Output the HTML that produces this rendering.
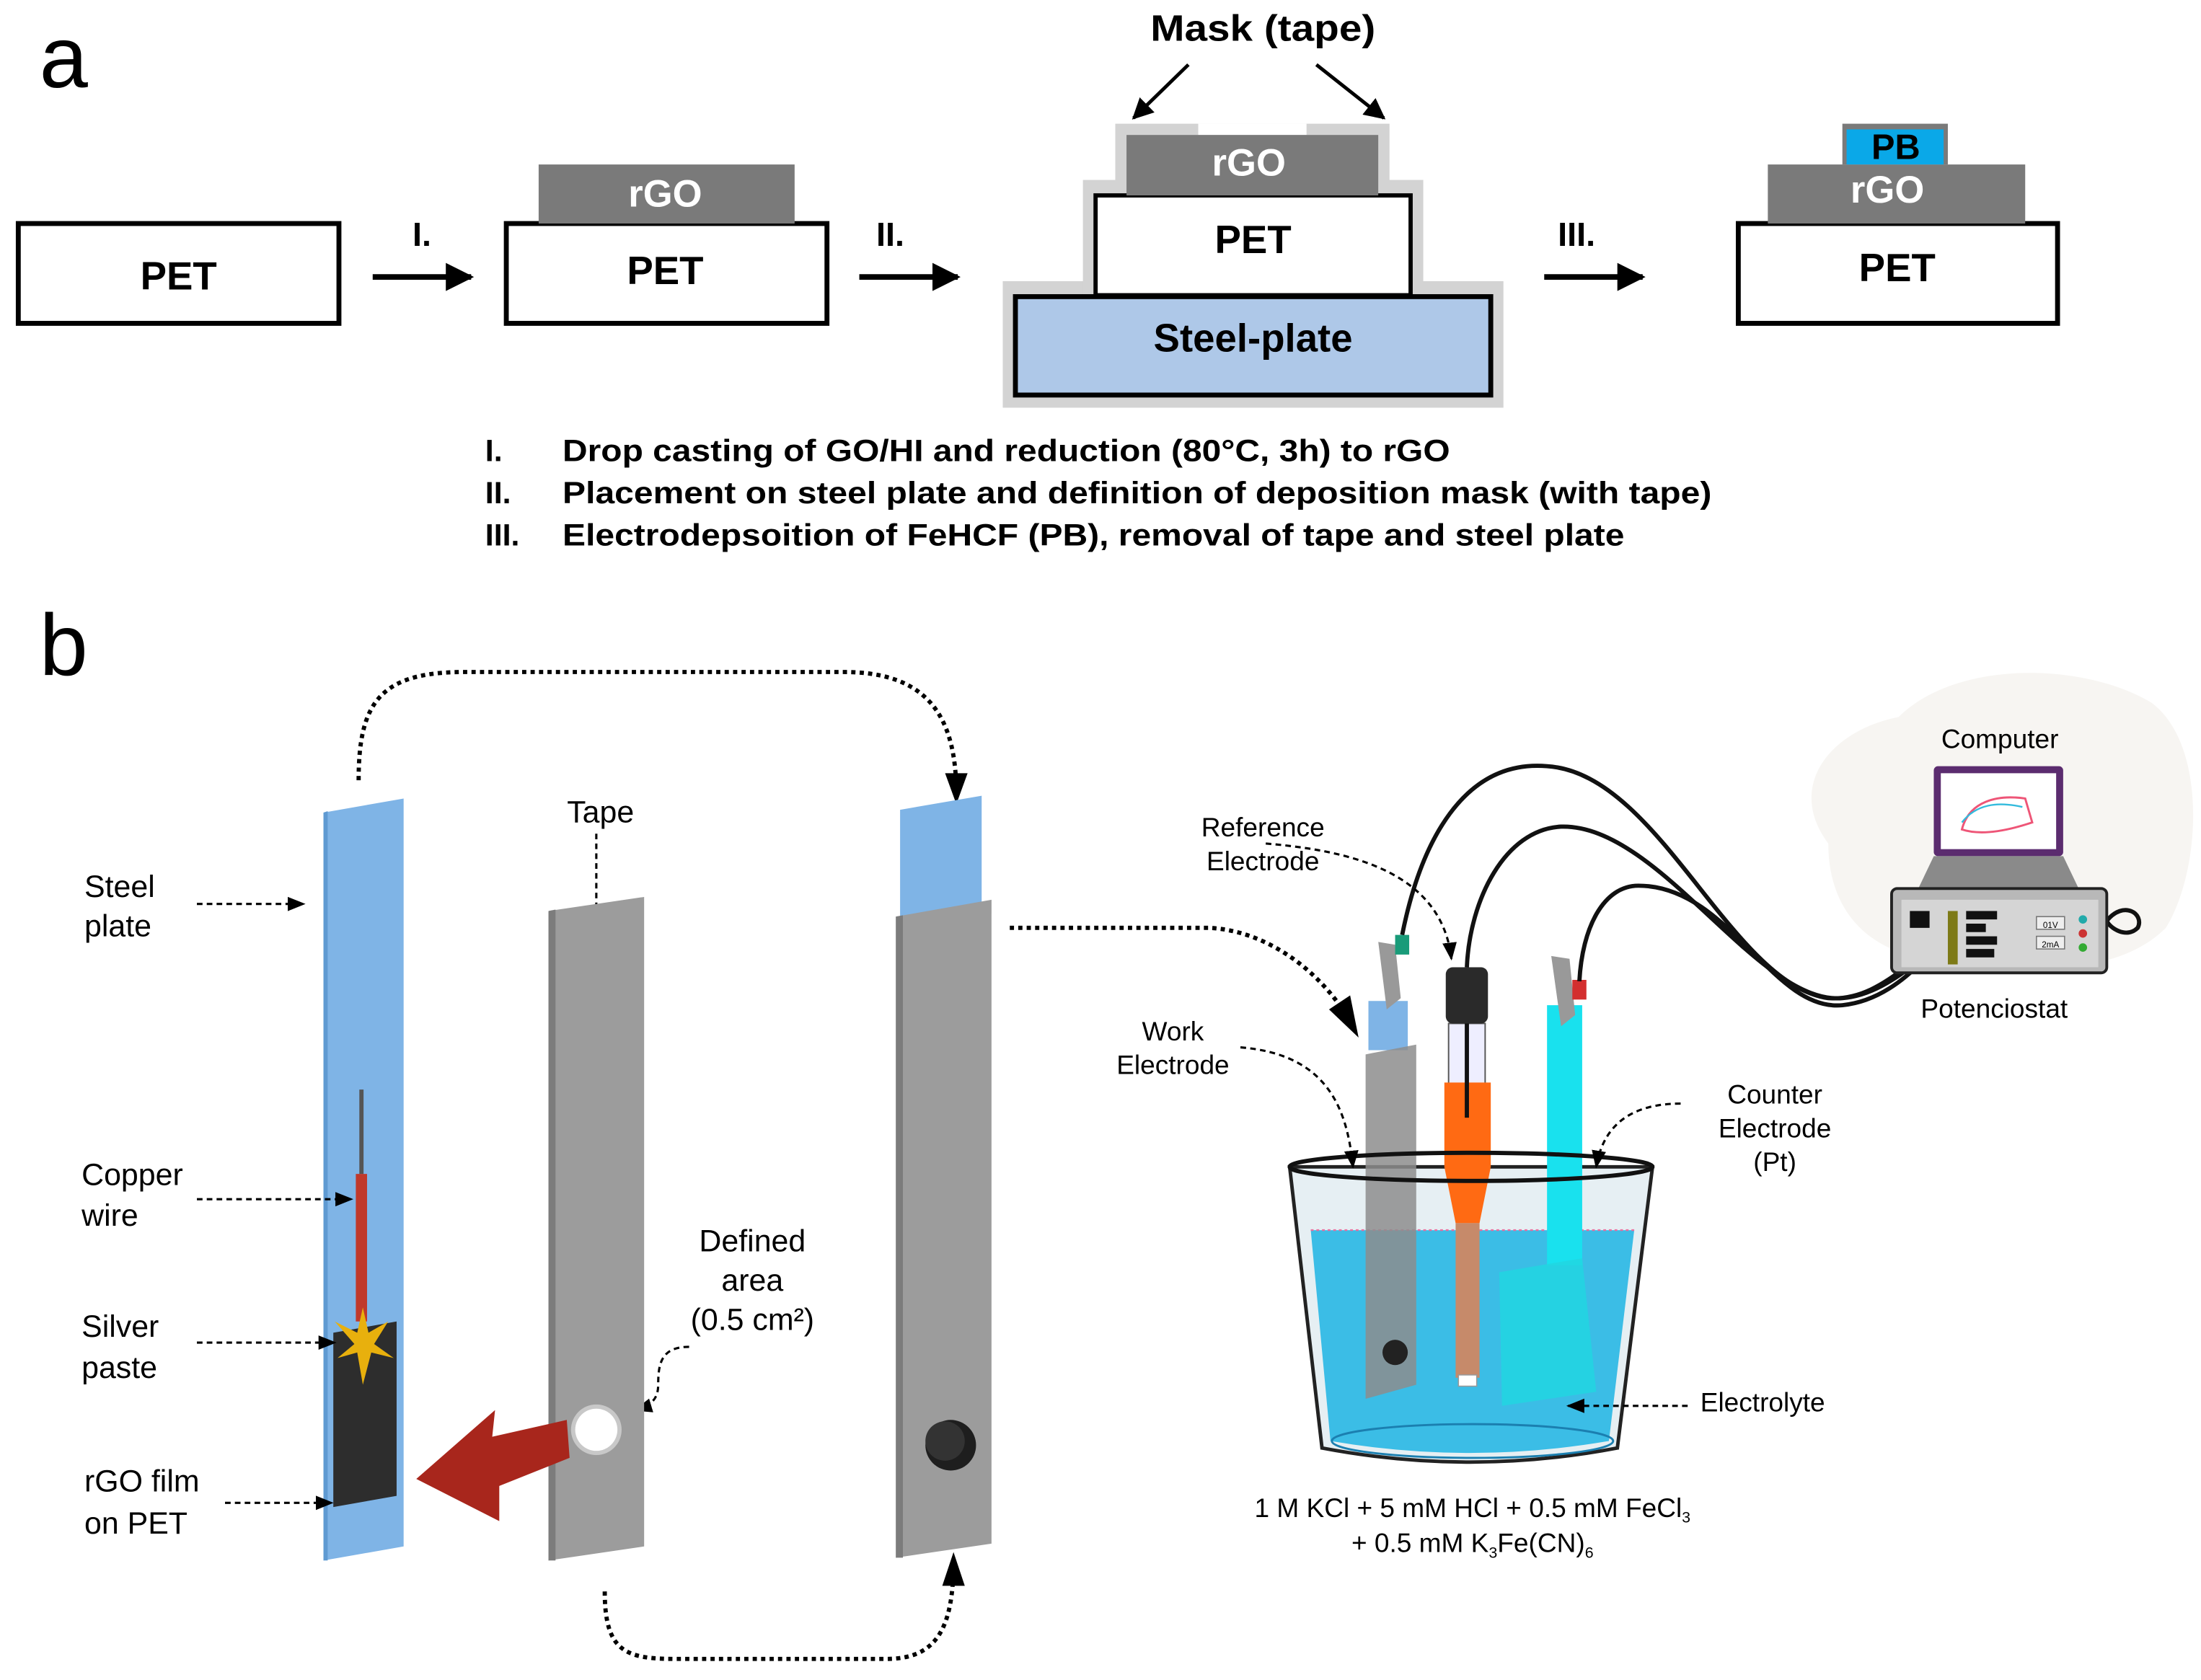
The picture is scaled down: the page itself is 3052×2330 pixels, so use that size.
<!DOCTYPE html>
<html><head><meta charset="utf-8"><style>
html,body{margin:0;padding:0;background:#fff}
svg{display:block}
text{font-family:"Liberation Sans",sans-serif}
.b{font-weight:bold}
</style></head><body>
<svg width="3052" height="2330" viewBox="0 0 1565 1195" preserveAspectRatio="none" xmlns="http://www.w3.org/2000/svg">
<defs>
<marker id="ah" viewBox="0 0 10 10" refX="9" refY="5" markerWidth="6" markerHeight="6" orient="auto"><path d="M0,0L10,5L0,10z" fill="#000"/></marker>
<marker id="ahs" viewBox="0 0 10 10" refX="9" refY="5" markerWidth="8" markerHeight="8" orient="auto"><path d="M0,1L10,5L0,9z" fill="#000"/></marker>
<marker id="ahb" viewBox="0 0 10 10" refX="9" refY="5" markerWidth="5" markerHeight="5" orient="auto"><path d="M0,0L10,5L0,10z" fill="#000"/></marker>
</defs>
<!-- Panel a -->
<text x="28" y="62" font-size="62">a</text>
<text x="818" y="29" font-size="26" class="b" textLength="160" lengthAdjust="spacingAndGlyphs">Mask (tape)</text>
<line x1="845" y1="46" x2="806" y2="84" stroke="#000" stroke-width="2.5" marker-end="url(#ah)"/>
<line x1="936" y1="46" x2="984" y2="84" stroke="#000" stroke-width="2.5" marker-end="url(#ah)"/>

<rect x="13" y="159" width="228" height="71" fill="#fff" stroke="#000" stroke-width="3.5"/>
<text x="127" y="206" font-size="28" class="b" text-anchor="middle">PET</text>
<line x1="265" y1="197" x2="335" y2="197" stroke="#000" stroke-width="4" marker-end="url(#ahb)"/>
<text x="300" y="175" font-size="24" class="b" text-anchor="middle">I.</text>

<rect x="360" y="159" width="228" height="71" fill="#fff" stroke="#000" stroke-width="3.5"/>
<rect x="383" y="117" width="182" height="42" fill="#7a7a7a"/>
<text x="473" y="147" font-size="27" class="b" fill="#fff" text-anchor="middle">rGO</text>
<text x="473" y="202" font-size="28" class="b" text-anchor="middle">PET</text>
<line x1="611" y1="197" x2="681" y2="197" stroke="#000" stroke-width="4" marker-end="url(#ahb)"/>
<text x="633" y="175" font-size="24" class="b" text-anchor="middle">II.</text>

<rect x="713" y="200" width="356" height="90" fill="#d3d3d3"/>
<rect x="770" y="128" width="242" height="82" fill="#d3d3d3"/>
<rect x="793" y="88" width="195" height="50" fill="#d3d3d3"/>
<rect x="852" y="88" width="77" height="8" fill="#fff"/>
<rect x="722" y="211" width="338" height="70" fill="#aec8e8" stroke="#000" stroke-width="3.5"/>
<rect x="779" y="139" width="224" height="71" fill="#fff" stroke="#000" stroke-width="3"/>
<rect x="801" y="96" width="179" height="43" fill="#7a7a7a"/>
<text x="888" y="125" font-size="27" class="b" fill="#fff" text-anchor="middle">rGO</text>
<text x="891" y="180" font-size="28" class="b" text-anchor="middle">PET</text>
<text x="891" y="250" font-size="28" class="b" text-anchor="middle">Steel-plate</text>
<line x1="1098" y1="197" x2="1168" y2="197" stroke="#000" stroke-width="4" marker-end="url(#ahb)"/>
<text x="1121" y="175" font-size="24" class="b" text-anchor="middle">III.</text>

<rect x="1236" y="159" width="227" height="71" fill="#fff" stroke="#000" stroke-width="3.5"/>
<rect x="1257" y="117" width="183" height="42" fill="#7a7a7a"/>
<rect x="1310" y="88" width="75" height="29" fill="#7a7a7a"/>
<rect x="1313" y="92" width="69" height="25" fill="#0aa8e8"/>
<text x="1348" y="113" font-size="25" class="b" text-anchor="middle">PB</text>
<text x="1342" y="144" font-size="27" class="b" fill="#fff" text-anchor="middle">rGO</text>
<text x="1349" y="200" font-size="28" class="b" text-anchor="middle">PET</text>

<g font-size="22" class="b">
<text x="345" y="328">I.</text><text x="400" y="328" textLength="631" lengthAdjust="spacingAndGlyphs">Drop casting of GO/HI and reduction (80°C, 3h) to rGO</text>
<text x="345" y="358">II.</text><text x="400" y="358" textLength="817" lengthAdjust="spacingAndGlyphs">Placement on steel plate and definition of deposition mask (with tape)</text>
<text x="345" y="388">III.</text><text x="400" y="388" textLength="755" lengthAdjust="spacingAndGlyphs">Electrodepsoition of FeHCF (PB), removal of tape and steel plate</text>
</g>

<!-- Panel b -->
<text x="28" y="480" font-size="62">b</text>
<path d="M255,555 C255,500 270,478 330,478 L600,478 C660,478 680,510 680,565" fill="none" stroke="#000" stroke-width="3" stroke-dasharray="3,3"/>
<path d="M672,550 L680,572 L688,550z" fill="#000"/>
<path d="M430,1132 C430,1175 445,1180 480,1180 L630,1180 C665,1180 678,1160 678,1110" fill="none" stroke="#000" stroke-width="3" stroke-dasharray="3,3"/>
<path d="M670,1128 L678,1104 L686,1128z" fill="#000"/>

<!-- strip 1 -->
<polygon points="230,578 287,568 287,1100 230,1110" fill="#7fb4e6"/>
<polygon points="230,578 233,577 233,1110 230,1110" fill="#5f9ad2"/>
<line x1="257" y1="775" x2="257" y2="835" stroke="#555" stroke-width="3"/>
<line x1="257" y1="835" x2="257" y2="940" stroke="#c0392b" stroke-width="8"/>
<polygon points="237,948 282,940 282,1064 237,1072" fill="#2d2d2d"/>
<polygon points="258,930 262,948 276,940 266,956 280,966 264,962 258,985 254,962 240,966 252,956 238,940 254,948" fill="#e8b00d"/>
<g font-size="22">
<text x="60" y="638">Steel</text><text x="60" y="666">plate</text>
<text x="58" y="843">Copper</text><text x="58" y="872">wire</text>
<text x="58" y="951">Silver</text><text x="58" y="980">paste</text>
<text x="60" y="1061">rGO film</text><text x="60" y="1091">on PET</text>
<text x="427" y="585" text-anchor="middle">Tape</text>
<text x="535" y="890" text-anchor="middle">Defined</text>
<text x="535" y="918" text-anchor="middle">area</text>
<text x="535" y="946" text-anchor="middle">(0.5 cm²)</text>
</g>
<g stroke="#000" stroke-width="1.6" stroke-dasharray="4,3" fill="none">
<line x1="140" y1="643" x2="216" y2="643" marker-end="url(#ahs)"/>
<line x1="140" y1="853" x2="250" y2="853" marker-end="url(#ahs)"/>
<line x1="140" y1="955" x2="238" y2="955" marker-end="url(#ahs)"/>
<line x1="160" y1="1069" x2="236" y2="1069" marker-end="url(#ahs)"/>
<line x1="424" y1="593" x2="424" y2="678" marker-end="url(#ahs)"/>
<path d="M490,958 C470,958 468,970 468,985 C468,996 462,1000 452,1003" marker-end="url(#ahs)"/>
</g>
<!-- strip 2 -->
<polygon points="390,648 458,638 458,1100 390,1110" fill="#9c9c9c"/>
<polygon points="390,648 395,647 395,1110 390,1110" fill="#7c7c7c"/>
<circle cx="424" cy="1017" r="18" fill="#c8c8c8"/><circle cx="424" cy="1017" r="15" fill="#fff"/>
<path d="M403,1010 L350,1022 L352,1003 L296,1052 L355,1082 L355,1057 L405,1037z" fill="#a8261c"/>
<!-- strip 3 -->
<polygon points="640,576 698,566 698,650 640,656" fill="#7fb4e6"/>
<polygon points="637,652 705,640 705,1098 637,1108" fill="#9c9c9c"/>
<polygon points="637,652 642,651 642,1108 637,1108" fill="#7c7c7c"/>
<circle cx="676" cy="1028" r="18" fill="#1e1e1e"/><circle cx="672" cy="1025" r="14" fill="#333"/>
<path d="M718,660 L860,660 C900,662 940,690 962,730" fill="none" stroke="#000" stroke-width="3" stroke-dasharray="3,3"/>
<path d="M945,718 L966,738 L960,708z" fill="#000"/>

<!-- background blob -->
<path d="M1300,600 C1270,560 1300,520 1350,510 C1390,470 1480,470 1530,500 C1570,530 1565,620 1540,660 C1500,700 1420,690 1360,680 C1320,670 1300,640 1300,600z" fill="#f7f5f2"/>

<!-- beaker -->
<path d="M917,830 L940,1030 Q1045,1050 1150,1030 L1175,830z" fill="#e6eff3" stroke="#222" stroke-width="2.5"/>
<path d="M932,875 L946,1025 Q1045,1042 1144,1025 L1162,875z" fill="#3bbde6"/>
<ellipse cx="1047" cy="1025" rx="100" ry="12" fill="none" stroke="#1b7fb0" stroke-width="1.5"/>
<line x1="932" y1="875" x2="1162" y2="875" stroke="#e86fa0" stroke-width="1.2" stroke-dasharray="2,2"/>
<!-- work electrode -->
<rect x="973" y="712" width="28" height="35" fill="#7fb4e6"/>
<polygon points="971,750 1007,743 1007,985 971,995" fill="#8d8d8d" opacity="0.85"/>
<circle cx="992" cy="962" r="9" fill="#222"/>
<path d="M980,670 L992,672 L996,710 L986,718z" fill="#999"/>
<rect x="992" y="665" width="10" height="14" fill="#199b79"/>
<!-- reference -->
<rect x="1030" y="728" width="26" height="50" fill="#eef" stroke="#555" stroke-width="1"/>
<path d="M1027,770 L1060,770 L1060,830 L1052,870 L1035,870 L1027,830z" fill="#ff6a13"/>
<rect x="1035" y="870" width="17" height="110" fill="#c68a6a"/>
<rect x="1037" y="978" width="13" height="8" fill="#fff" stroke="#999" stroke-width="0.8"/>
<line x1="1043" y1="720" x2="1043" y2="795" stroke="#111" stroke-width="3"/>
<rect x="1028" y="688" width="30" height="40" rx="5" fill="#2a2a2a"/>
<!-- counter -->
<rect x="1100" y="715" width="25" height="185" fill="#19e1ee"/>
<polygon points="1066,905 1125,895 1135,990 1068,1000" fill="#22d6e0" opacity="0.85"/>
<path d="M1103,680 L1116,682 L1120,722 L1110,730z" fill="#999"/>
<rect x="1118" y="697" width="10" height="14" fill="#d32f2f"/>
<!-- rim -->
<ellipse cx="1046" cy="830" rx="129" ry="10" fill="none" stroke="#111" stroke-width="3"/>
<!-- wires -->
<g fill="none" stroke="#111" stroke-width="3">
<path d="M997,665 C1010,600 1040,540 1100,545 C1180,550 1230,700 1300,710 C1330,712 1350,690 1367,680"/>
<path d="M1043,688 C1045,640 1070,590 1110,588 C1180,586 1250,715 1310,710 C1335,708 1355,690 1367,682"/>
<path d="M1123,698 C1125,660 1140,630 1165,630 C1230,630 1260,720 1310,715 C1340,712 1360,690 1367,684"/>
<path d="M1498,655 C1510,640 1525,650 1520,660 C1512,668 1500,660 1498,655"/>
</g>
<!-- dashed label arrows (on top) -->
<g stroke="#000" stroke-width="1.6" stroke-dasharray="4,3" fill="none">
<path d="M900,600 C960,605 1025,620 1032,682" marker-end="url(#ahs)"/>
<path d="M882,745 C945,750 958,790 962,830" marker-end="url(#ahs)"/>
<path d="M1195,785 C1160,785 1140,800 1135,830" marker-end="url(#ahs)"/>
<line x1="1200" y1="1000" x2="1115" y2="1000" marker-end="url(#ahs)"/>
</g>
<!-- computer -->
<rect x="1375" y="545" width="92" height="64" rx="3" fill="#5b2c6f"/>
<rect x="1380" y="550" width="82" height="54" fill="#fff"/>
<path d="M1395,590 C1400,570 1420,565 1440,568 L1445,585 C1430,590 1410,595 1395,590z" fill="none" stroke="#e57" stroke-width="1.5"/>
<path d="M1395,585 C1405,572 1420,570 1438,574" fill="none" stroke="#3bd" stroke-width="1.2"/>
<path d="M1375,609 L1467,609 L1478,632 L1364,632z" fill="#8a8a8a"/>
<rect x="1345" y="632" width="153" height="60" rx="4" fill="#b8b8b8" stroke="#222" stroke-width="2"/>
<rect x="1352" y="640" width="140" height="48" fill="#d5d5d5"/>
<rect x="1358" y="648" width="14" height="12" fill="#111"/>
<rect x="1385" y="648" width="7" height="38" fill="#7d7a16"/>
<g fill="#111"><rect x="1398" y="648" width="22" height="6"/><rect x="1398" y="657" width="14" height="6"/><rect x="1398" y="666" width="22" height="6"/><rect x="1398" y="675" width="20" height="6"/></g>
<rect x="1448" y="652" width="20" height="9" fill="#eee" stroke="#777" stroke-width="0.8"/>
<rect x="1448" y="666" width="20" height="9" fill="#eee" stroke="#777" stroke-width="0.8"/>
<text x="1458" y="660" font-size="6" text-anchor="middle">01V</text>
<text x="1458" y="674" font-size="6" text-anchor="middle">2mA</text>
<circle cx="1481" cy="654" r="3" fill="#2aa"/><circle cx="1481" cy="664" r="3" fill="#c33"/><circle cx="1481" cy="674" r="3" fill="#3a3"/>
<g font-size="19">
<text x="1422" y="532" text-anchor="middle">Computer</text>
<text x="1418" y="724" text-anchor="middle">Potenciostat</text>
<text x="898" y="595" text-anchor="middle">Reference</text>
<text x="898" y="619" text-anchor="middle">Electrode</text>
<text x="834" y="740" text-anchor="middle">Work</text>
<text x="834" y="764" text-anchor="middle">Electrode</text>
<text x="1262" y="785" text-anchor="middle">Counter</text>
<text x="1262" y="809" text-anchor="middle">Electrode</text>
<text x="1262" y="833" text-anchor="middle">(Pt)</text>
<text x="1209" y="1004">Electrolyte</text>
<text x="1047" y="1079" text-anchor="middle">1 M KCl + 5 mM HCl + 0.5 mM FeCl<tspan font-size="11" dy="4">3</tspan></text>
<text x="1047" y="1104" text-anchor="middle">+ 0.5 mM K<tspan font-size="11" dy="4">3</tspan><tspan dy="-4">Fe(CN)</tspan><tspan font-size="11" dy="4">6</tspan></text>
</g>
</svg>
</body></html>
